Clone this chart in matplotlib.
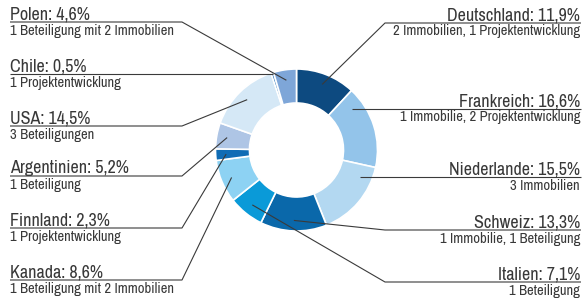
import matplotlib
matplotlib.use("Agg")
import matplotlib.pyplot as plt
import numpy as np

# data (clockwise from 12 o'clock)
countries = ["Deutschland", "Frankreich", "Niederlande", "Schweiz", "Italien",
             "Kanada", "Finnland", "Argentinien", "USA", "Chile", "Polen"]
shares = [11.9, 16.6, 15.5, 13.3, 7.1, 8.6, 2.3, 5.2, 14.5, 0.5, 4.6]
details = ["2 Immobilien, 1 Projektentwicklung",
           "1 Immobilie, 2 Projektentwicklung",
           "3 Immobilien",
           "1 Immobilie, 1 Beteiligung",
           "1 Beteiligung",
           "1 Beteiligung mit 2 Immobilien",
           "1 Projektentwicklung",
           "1 Beteiligung",
           "3 Beteiligungen",
           "1 Projektentwicklung",
           "1 Beteiligung mit 2 Immobilien"]
colors = ["#0d4a80", "#93c4ea", "#b3d8f1", "#0a68aa", "#0a9ad8",
          "#8dd2f3", "#106cb5", "#aec5e5", "#d5e8f6", "#2270b5", "#7ea6d8"]

# layout (pixel coords, y measured from top)
W, H = 585, 302
cx, cy = 296.5, 150
R, r_in = 81, 47
side = ["R", "R", "R", "R", "R", "L", "L", "L", "L", "L", "L"]
line_y = [23, 109, 177, 230, 282, 280, 228, 176, 126, 74, 22]
flat = [False, True, True, False, False, False, False, False, False, True, False]
elbow_l, elbow_r = 182, 385
x_left, x_right = 10, 580

plt.rcParams['font.family'] = ['Archivo Narrow', 'Liberation Sans Narrow', 'DejaVu Sans']
fig = plt.figure(figsize=(W / 100, H / 100), dpi=100)
ax = fig.add_axes([0, 0, 1, 1])

ax.pie(shares, colors=colors, startangle=90, counterclock=False,
       radius=R, center=(cx, H - cy),
       wedgeprops=dict(width=R - r_in, edgecolor="white", linewidth=1.2))
ax.set_xlim(0, W)
ax.set_ylim(0, H)
ax.set_aspect("auto")
ax.axis("off")

total = sum(shares)
cum = np.cumsum([0] + shares[:-1]) / total * 360
mids = cum + np.array(shares) / total * 360 / 2

ra = 0.87 * R
txt_col = "#383838"
for i, name in enumerate(countries):
    th = np.radians(mids[i])
    ly = line_y[i]
    if flat[i]:
        dy = ly - cy
        rr = -dy / np.cos(th) if abs(np.cos(th)) > 1e-6 else -1
        if r_in < rr < R:
            ax_x = cx + rr * np.sin(th)
        else:
            rc = 0.85 * R
            sgn = 1 if side[i] == "R" else -1
            ax_x = cx + sgn * np.sqrt(max(rc**2 - dy**2, 0))
        ax_y = ly
    else:
        ax_x = cx + ra * np.sin(th)
        ax_y = cy - ra * np.cos(th)

    if side[i] == "R":
        xs = [ax_x, elbow_r, x_right + 1]
        tx, ha = x_right, "right"
    else:
        xs = [ax_x, elbow_l, x_left]
        tx, ha = x_left, "left"
    if flat[i]:
        xs = [xs[0], xs[2]]
        ys = [ly, ly]
    else:
        ys = [ax_y, ly, ly]
    ax.plot(xs, [H - v for v in ys], color="#3a3a3a", lw=0.8,
            solid_capstyle="butt")

    label = f"{name}: {shares[i]:.1f}%".replace(".", ",")
    ax.text(tx, H - (ly - 2.5), label, ha=ha, va="baseline",
            fontsize=13, color=txt_col)
    ax.text(tx, H - (ly + 1.5), details[i], ha=ha, va="top",
            fontsize=10.5, color=txt_col)

fig.savefig("out.png", dpi=100)
